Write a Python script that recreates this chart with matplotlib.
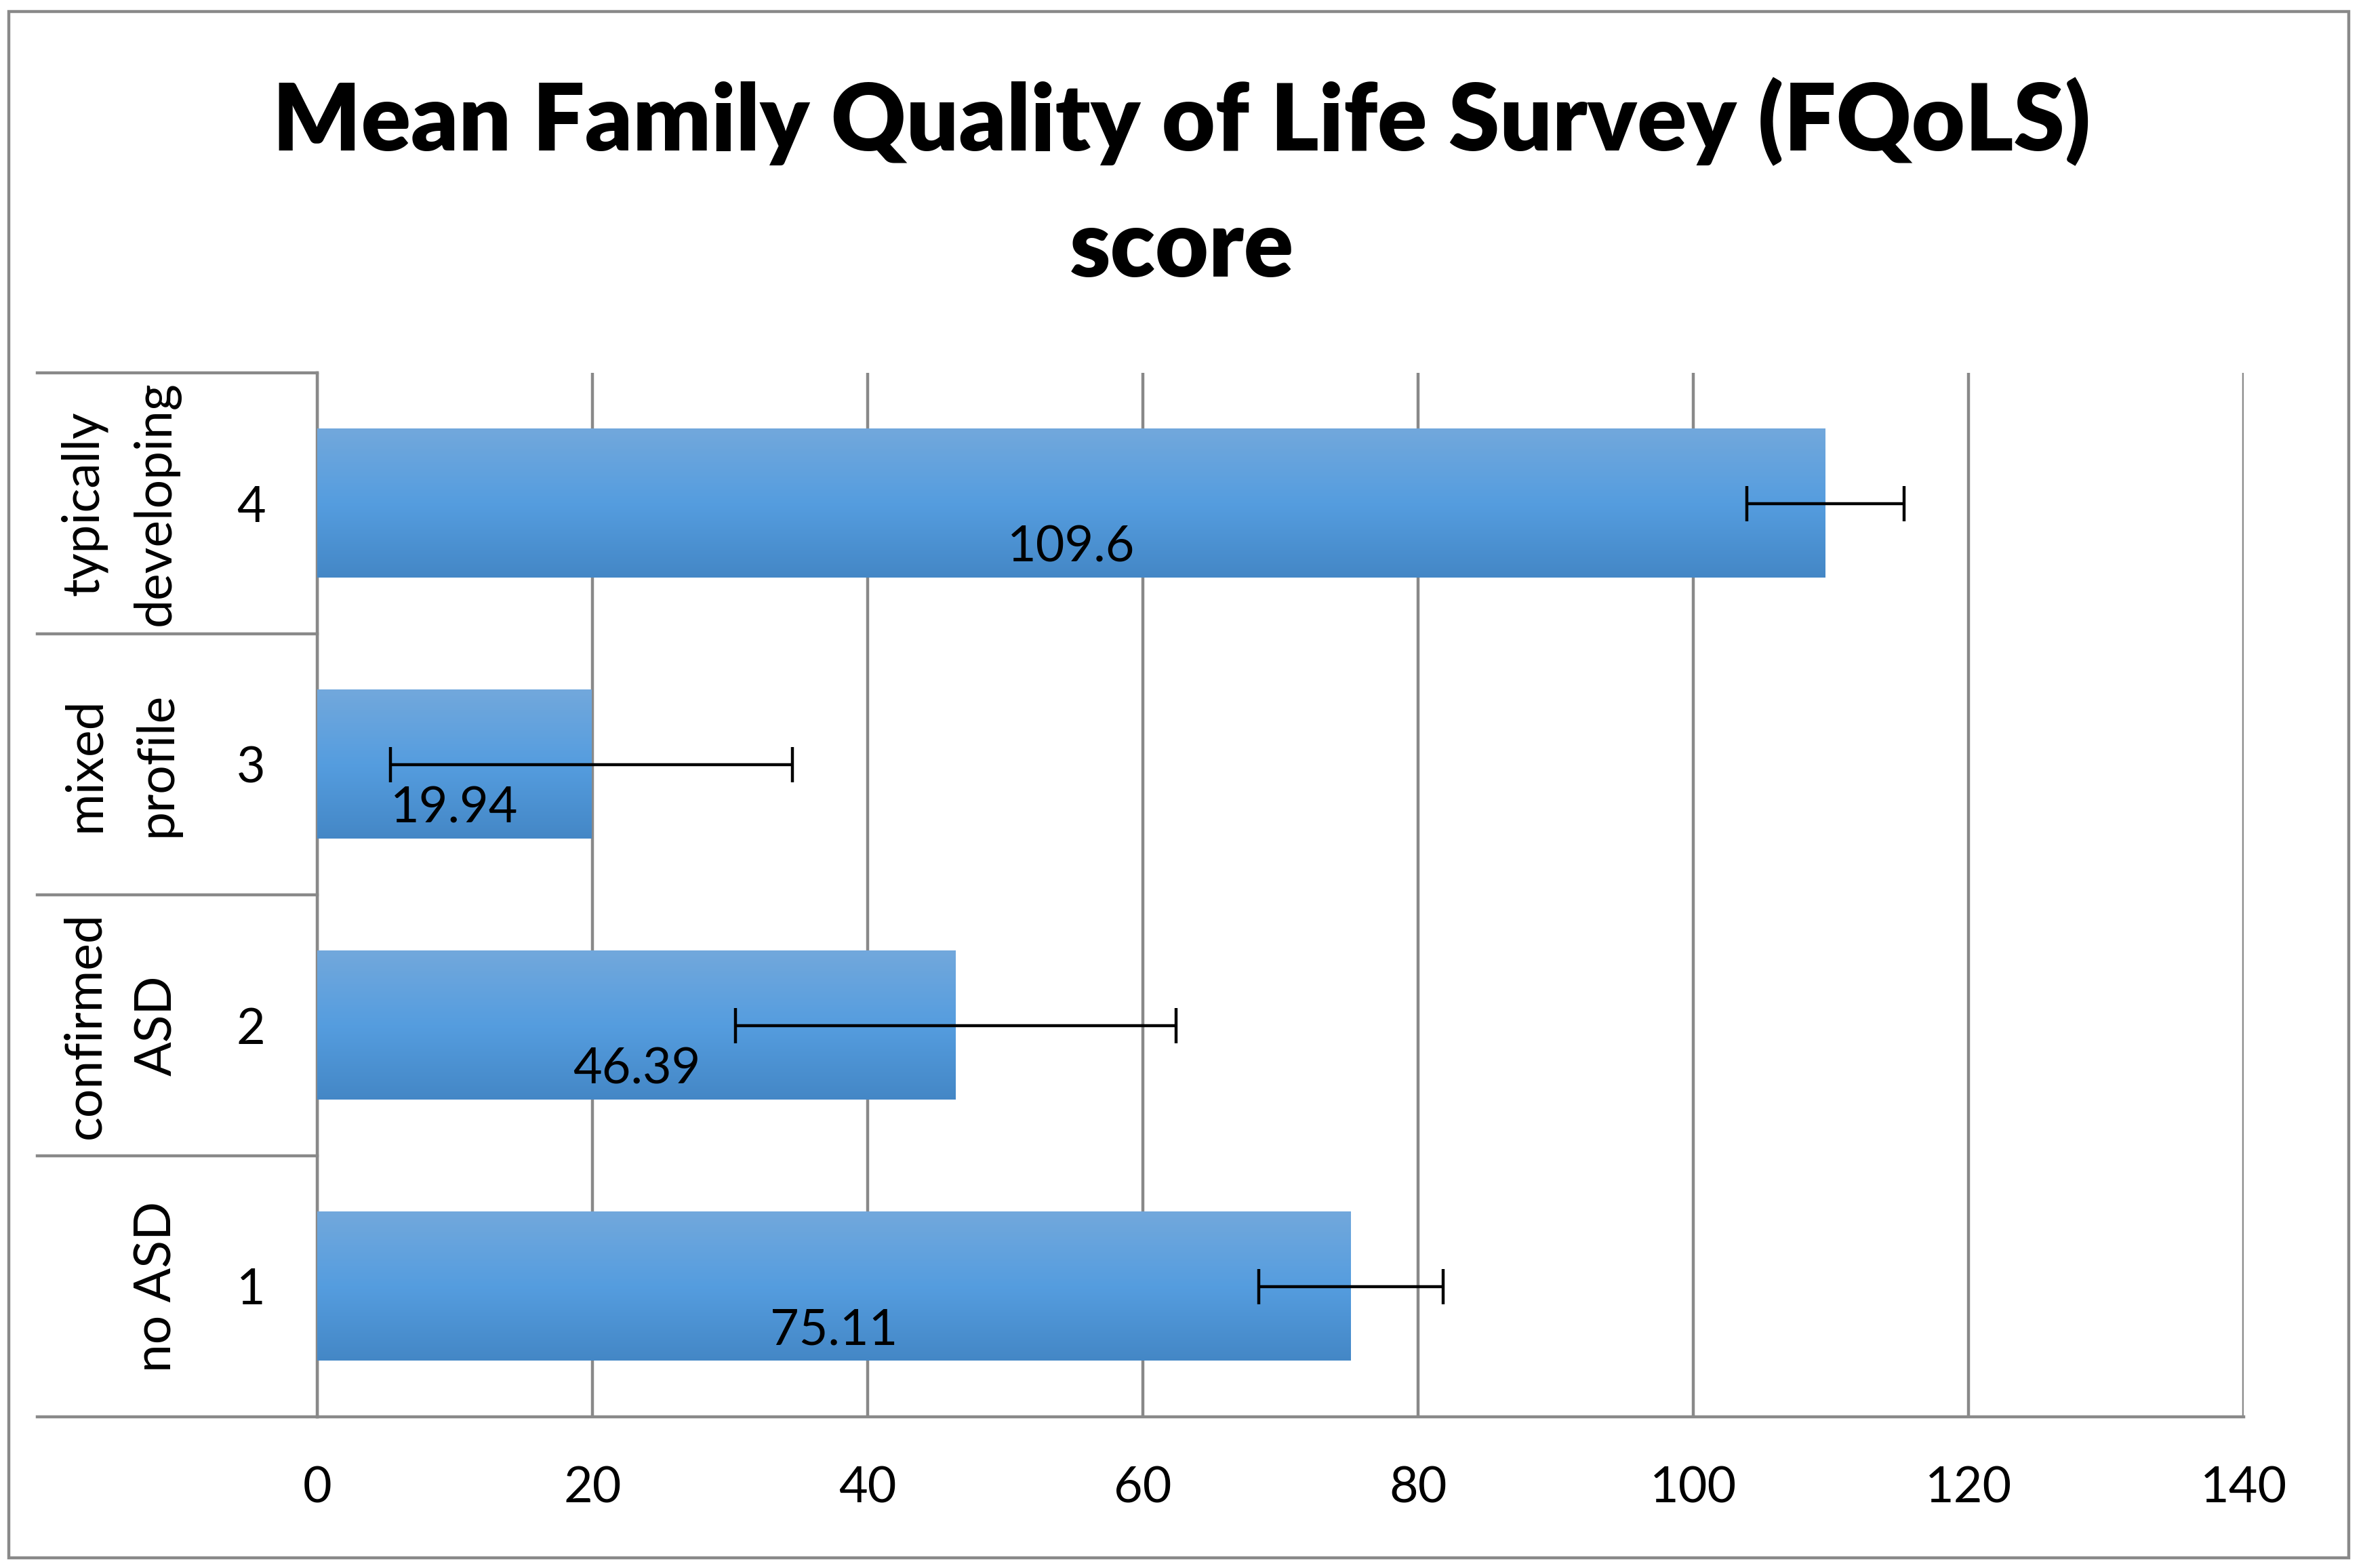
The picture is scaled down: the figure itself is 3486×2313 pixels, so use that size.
import matplotlib
matplotlib.use("Agg")
import matplotlib.pyplot as plt
import matplotlib.transforms as mtransforms
from matplotlib.colors import LinearSegmentedColormap
from matplotlib.patches import Rectangle
import numpy as np

plt.rcParams['font.family'] = ['Lato', 'DejaVu Sans']

groups = ['no ASD', 'confirmed\nASD', 'mixed\nprofile', 'typically\ndeveloping']
codes = ['1', '2', '3', '4']
means = [75.11, 46.39, 19.94, 109.6]
errs = [6.7, 16.0, 14.6, 5.7]
xticks = [0, 20, 40, 60, 80, 100, 120, 140]

gray = '#898989'
W, H = 3487, 2313
fig = plt.figure(figsize=(W / 100, H / 100), dpi=100)
ax = fig.add_axes([468 / W, 1 - 2090 / H, (3310 - 468) / W, (2090 - 550) / H])

ypos = np.arange(1, len(means) + 1)
bars = ax.barh(ypos, means, height=0.57, color='#559bdc', zorder=2)

# vertical gradient on each bar, lighter on top
grad_cmap = LinearSegmentedColormap.from_list(
    'barfill', ['#4487c6', '#559ddf', '#72a8dc'])
grad = np.linspace(0, 1, 256).reshape(-1, 1)
for b in bars:
    x0, y0, w, h = b.get_x(), b.get_y(), b.get_width(), b.get_height()
    ax.imshow(grad, cmap=grad_cmap, origin='lower', aspect='auto',
              extent=[x0, x0 + w, y0, y0 + h], zorder=3, interpolation='bicubic')

ax.errorbar(means, ypos, xerr=errs, fmt='none', ecolor='black',
            elinewidth=3.2, capsize=19, capthick=3.2, zorder=5)

for y, v in zip(ypos, means):
    ax.text(v / 2, y - 0.17, f'{v:g}', ha='center', va='center',
            fontsize=53, zorder=6)

ax.set_xlim(0, 140)
ax.set_ylim(0.5, len(means) + 0.5)
ax.set_xticks(xticks)
ax.set_xticklabels([str(t) for t in xticks])
ax.set_yticks(ypos)
ax.set_yticklabels(codes)
ax.tick_params(axis='x', length=0, pad=52, labelsize=53)
ax.tick_params(axis='y', length=0, pad=55, labelsize=53)
ax.grid(axis='x', color=gray, linewidth=3.2, zorder=0)
ax.set_axisbelow(True)
for s in ['top', 'right']:
    ax.spines[s].set_visible(False)
for s in ['left', 'bottom']:
    ax.spines[s].set_color(gray)
    ax.spines[s].set_linewidth(3.2)

# multi-level category box on the left
trans = mtransforms.blended_transform_factory(ax.transAxes, ax.transData)
xl = (55 - 468) / (3310 - 468)
for yb in np.arange(0.5, len(means) + 1, 1.0):
    ax.plot([xl, 0], [yb, yb], color=gray, linewidth=3.2,
            transform=trans, clip_on=False, zorder=1)
xg = (266 - 468) / (3310 - 468)
for y, g in zip(ypos, groups):
    ax.text(xg, y, g, rotation=90, ha='right', va='center',
            multialignment='center', fontsize=54, transform=trans,
            linespacing=1.65)

fig.text(0.5, 1 - 222 / H, 'Mean Family Quality of Life Survey (FQoLS)',
         ha='center', va='baseline', fontsize=98, fontweight='heavy')
fig.text(0.5, 1 - 408 / H, 'score',
         ha='center', va='baseline', fontsize=98, fontweight='heavy')

fig.patches.append(Rectangle((13 / W, 1 - 2298 / H), (3465 - 13) / W,
                             (2298 - 17) / H, transform=fig.transFigure,
                             fill=False, edgecolor=gray, linewidth=3.2))

fig.savefig('out.png', dpi=100)
